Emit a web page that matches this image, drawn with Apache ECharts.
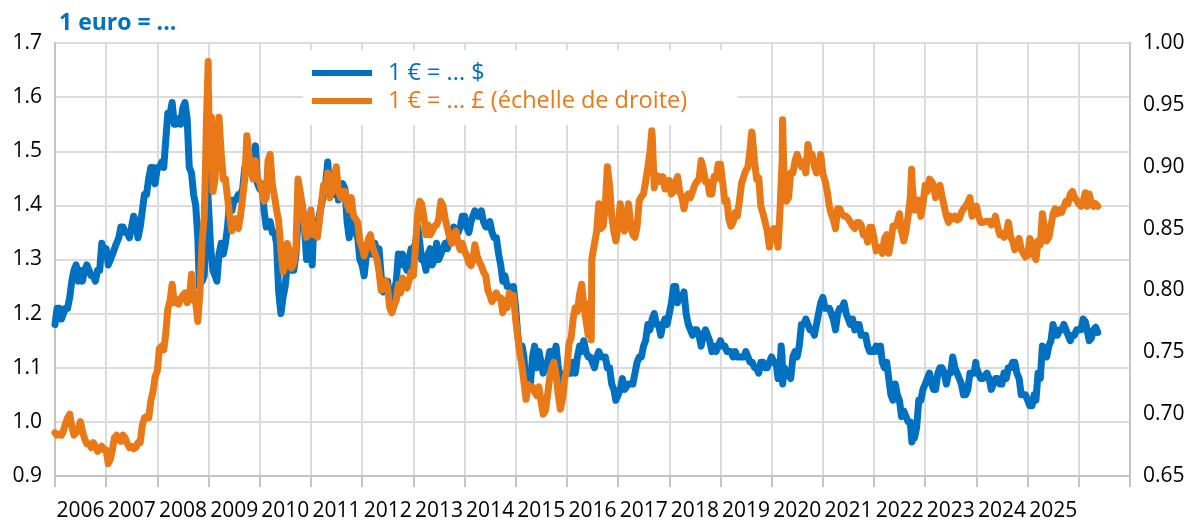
<!DOCTYPE html>
<html>
<head>
<meta charset="utf-8">
<script src="https://cdn.jsdelivr.net/npm/echarts@6/dist/echarts.min.js"></script>
<style>
  html, body { margin: 0; padding: 0; background: #fff; }
  #chart { width: 1190px; height: 522px; }
</style>
</head>
<body>
<div id="chart"></div>
<script>
// Year labels shown under the x axis (one per calendar year, centred in the year)
const yearLabels = ['2006','2007','2008','2009','2010','2011','2012','2013','2014','2015',
  '2016','2017','2018','2019','2020','2021','2022','2023','2024','2025'];

// Left axis ticks (USD per euro) and right axis ticks (GBP per euro)
const usdTicks = [0.9, 1.0, 1.1, 1.2, 1.3, 1.4, 1.5, 1.6, 1.7];
const gbpTicks = [0.65, 0.70, 0.75, 0.80, 0.85, 0.90, 0.95, 1.00];

// EUR/USD, twice a month (1st and 16th), starting January 2006
const usdValues = [
  // 2006
  1.18,1.21,1.21,1.19,1.19,1.21,1.21,1.23,1.26,1.28,1.29,1.26,1.28,1.26,1.28,1.29,1.28,1.27,1.27,1.26,1.28,1.28,1.33,1.31,
  // 2007
  1.32,1.29,1.30,1.31,1.32,1.33,1.34,1.36,1.36,1.35,1.35,1.34,1.36,1.38,1.37,1.34,1.36,1.39,1.42,1.42,1.45,1.47,1.47,1.44,
  // 2008
  1.47,1.47,1.48,1.47,1.52,1.57,1.57,1.59,1.55,1.55,1.56,1.55,1.58,1.59,1.56,1.47,1.46,1.42,1.40,1.34,1.28,1.26,1.27,1.40,
  // 2009
  1.40,1.32,1.28,1.27,1.26,1.31,1.33,1.31,1.33,1.36,1.41,1.39,1.41,1.41,1.42,1.42,1.43,1.47,1.46,1.49,1.47,1.49,1.51,1.44,
  // 2010
  1.43,1.44,1.39,1.36,1.36,1.37,1.35,1.35,1.33,1.24,1.20,1.23,1.25,1.29,1.31,1.28,1.28,1.31,1.37,1.40,1.40,1.36,1.30,1.33,
  // 2011
  1.34,1.33,1.37,1.36,1.38,1.40,1.42,1.44,1.48,1.42,1.44,1.42,1.45,1.41,1.43,1.44,1.43,1.37,1.34,1.38,1.37,1.35,1.34,1.30,
  // 2012
  1.29,1.27,1.31,1.31,1.33,1.31,1.33,1.31,1.32,1.27,1.24,1.26,1.26,1.22,1.22,1.24,1.26,1.31,1.29,1.31,1.29,1.28,1.30,1.32,
  // 2013
  1.32,1.33,1.36,1.33,1.30,1.30,1.28,1.31,1.32,1.29,1.30,1.33,1.30,1.31,1.32,1.33,1.32,1.34,1.35,1.36,1.35,1.35,1.36,1.38,
  // 2014
  1.38,1.36,1.35,1.37,1.38,1.39,1.38,1.38,1.39,1.37,1.36,1.36,1.37,1.35,1.34,1.34,1.31,1.29,1.26,1.27,1.25,1.25,1.24,1.25,
  // 2015
  1.21,1.16,1.13,1.14,1.12,1.06,1.08,1.07,1.12,1.14,1.10,1.13,1.11,1.09,1.10,1.11,1.13,1.13,1.12,1.14,1.10,1.07,1.06,1.09,
  // 2016
  1.09,1.09,1.09,1.11,1.09,1.12,1.14,1.13,1.15,1.13,1.12,1.12,1.11,1.10,1.12,1.13,1.12,1.12,1.12,1.10,1.10,1.07,1.06,1.04,
  // 2017
  1.05,1.06,1.08,1.06,1.06,1.07,1.07,1.07,1.09,1.11,1.12,1.12,1.14,1.15,1.18,1.17,1.19,1.20,1.18,1.18,1.16,1.18,1.19,1.18,
  // 2018
  1.20,1.22,1.25,1.25,1.22,1.23,1.23,1.24,1.20,1.18,1.17,1.16,1.17,1.17,1.16,1.14,1.16,1.17,1.16,1.15,1.13,1.14,1.13,1.14,
  // 2019
  1.15,1.14,1.14,1.13,1.13,1.13,1.12,1.13,1.12,1.12,1.12,1.12,1.13,1.12,1.11,1.11,1.10,1.10,1.09,1.11,1.11,1.10,1.10,1.11,
  // 2020
  1.12,1.11,1.11,1.08,1.10,1.12,1.10,1.09,1.09,1.08,1.12,1.13,1.12,1.14,1.18,1.18,1.19,1.18,1.17,1.17,1.16,1.18,1.20,1.22,
  // 2021
  1.23,1.21,1.21,1.21,1.21,1.19,1.17,1.20,1.21,1.21,1.22,1.20,1.19,1.18,1.19,1.17,1.18,1.18,1.16,1.16,1.16,1.14,1.13,1.13,
  // 2022
  1.13,1.14,1.13,1.14,1.11,1.10,1.11,1.08,1.05,1.04,1.07,1.05,1.04,1.01,1.02,1.01,1.00,1.00,0.98,0.97,0.99,1.04,1.04,1.06,
  // 2023
  1.07,1.08,1.09,1.07,1.06,1.06,1.09,1.10,1.10,1.09,1.07,1.09,1.09,1.12,1.10,1.09,1.08,1.07,1.05,1.05,1.06,1.09,1.09,1.09,
  // 2024
  1.10,1.09,1.08,1.08,1.08,1.09,1.08,1.06,1.07,1.08,1.08,1.07,1.07,1.09,1.08,1.10,1.10,1.11,1.11,1.09,1.08,1.05,1.05,1.05,
  // 2025
  1.04,1.03,1.03,1.05,1.04,1.09,1.08,1.14,1.13,1.12,1.14,1.15,1.18,1.16,1.16,1.17,1.17,1.18,1.17,1.16,1.15,1.16,1.16,1.17,
  // 2026
  1.17,1.17,1.19,1.185,1.17,1.15,1.155,1.17,1.175,1.165
];

// EUR/GBP, same dates as usdValues
const gbpValues = [
  // 2006
  0.685,0.683,0.684,0.683,0.686,0.692,0.697,0.700,0.690,0.683,0.685,0.688,0.694,0.686,0.680,0.676,0.676,0.673,0.677,0.674,0.670,0.672,0.674,0.671,
  // 2007
  0.671,0.660,0.664,0.672,0.681,0.683,0.680,0.678,0.683,0.681,0.676,0.673,0.674,0.672,0.673,0.677,0.677,0.691,0.697,0.698,0.697,0.711,0.718,0.730,
  // 2008
  0.735,0.753,0.755,0.752,0.765,0.785,0.792,0.805,0.790,0.793,0.789,0.793,0.796,0.798,0.790,0.793,0.813,0.792,0.790,0.775,0.800,0.840,0.860,0.935,
  // 2009
  0.960,0.910,0.880,0.890,0.890,0.940,0.910,0.890,0.890,0.875,0.860,0.848,0.855,0.858,0.850,0.860,0.875,0.890,0.925,0.910,0.895,0.890,0.905,0.890,
  // 2010
  0.887,0.880,0.872,0.875,0.905,0.910,0.885,0.876,0.865,0.856,0.832,0.815,0.820,0.838,0.830,0.818,0.822,0.835,0.890,0.880,0.868,0.852,0.843,0.850,
  // 2011
  0.865,0.845,0.848,0.843,0.855,0.870,0.885,0.880,0.895,0.875,0.880,0.890,0.900,0.880,0.875,0.880,0.880,0.870,0.865,0.875,0.860,0.858,0.855,0.840,
  // 2012
  0.835,0.828,0.835,0.842,0.845,0.835,0.830,0.825,0.815,0.800,0.802,0.808,0.802,0.786,0.782,0.788,0.792,0.805,0.798,0.810,0.803,0.802,0.808,0.815,
  // 2013
  0.812,0.835,0.862,0.872,0.870,0.860,0.845,0.853,0.845,0.848,0.852,0.853,0.858,0.872,0.868,0.858,0.850,0.843,0.838,0.846,0.848,0.838,0.833,0.838,
  // 2014
  0.832,0.828,0.822,0.820,0.825,0.837,0.828,0.823,0.820,0.815,0.812,0.800,0.796,0.791,0.794,0.798,0.794,0.794,0.782,0.792,0.786,0.798,0.794,0.796,
  // 2015
  0.776,0.762,0.748,0.738,0.726,0.712,0.724,0.720,0.722,0.718,0.715,0.722,0.710,0.700,0.703,0.715,0.730,0.738,0.742,0.732,0.715,0.704,0.712,0.728,
  // 2016
  0.736,0.757,0.762,0.778,0.786,0.783,0.797,0.805,0.788,0.776,0.764,0.790,0.828,0.838,0.848,0.870,0.850,0.852,0.868,0.900,0.885,0.860,0.848,0.840,
  // 2017
  0.852,0.870,0.858,0.848,0.855,0.870,0.853,0.845,0.843,0.852,0.873,0.876,0.878,0.888,0.900,0.912,0.925,0.883,0.893,0.892,0.888,0.892,0.882,0.882,
  // 2018
  0.889,0.878,0.880,0.888,0.892,0.880,0.875,0.866,0.875,0.878,0.875,0.880,0.885,0.888,0.890,0.905,0.898,0.888,0.888,0.878,0.878,0.892,0.890,0.902,
  // 2019
  0.902,0.888,0.872,0.873,0.858,0.852,0.855,0.863,0.860,0.872,0.887,0.892,0.897,0.900,0.915,0.925,0.905,0.890,0.891,0.868,0.862,0.855,0.848,0.835,
  // 2020
  0.846,0.850,0.845,0.835,0.865,0.905,0.880,0.872,0.875,0.895,0.895,0.905,0.910,0.905,0.900,0.904,0.895,0.918,0.908,0.910,0.900,0.895,0.898,0.910,
  // 2021
  0.894,0.889,0.880,0.868,0.862,0.857,0.850,0.866,0.866,0.862,0.860,0.860,0.858,0.855,0.852,0.850,0.855,0.855,0.853,0.845,0.846,0.839,0.851,0.851,
  // 2022
  0.842,0.832,0.835,0.835,0.830,0.842,0.845,0.830,0.840,0.852,0.852,0.855,0.862,0.848,0.840,0.848,0.860,0.875,0.885,0.865,0.865,0.873,0.860,0.870,
  // 2023
  0.885,0.880,0.890,0.888,0.885,0.875,0.880,0.885,0.876,0.868,0.860,0.855,0.860,0.858,0.860,0.857,0.858,0.863,0.866,0.868,0.871,0.875,0.860,0.866,
  // 2024
  0.868,0.860,0.855,0.855,0.856,0.856,0.856,0.853,0.855,0.860,0.851,0.845,0.846,0.843,0.846,0.855,0.843,0.840,0.833,0.838,0.842,0.833,0.830,0.827,
  // 2025
  0.828,0.842,0.838,0.828,0.825,0.840,0.837,0.862,0.850,0.840,0.843,0.852,0.862,0.866,0.862,0.865,0.863,0.868,0.872,0.870,0.878,0.880,0.875,0.873,
  // 2026
  0.870,0.868,0.872,0.879,0.868,0.878,0.870,0.868,0.870,0.868
];

// Extra dated points for short-lived peaks and troughs between the regular dates
const usdExtra = [
  ['2008-10-27', 1.25], ['2008-12-18', 1.47], ['2008-12-31', 1.40],
  ['2011-01-10', 1.29], ['2020-03-09', 1.14], ['2020-03-20', 1.07],
  ['2022-09-28', 0.963], ['2023-12-28', 1.11]
];
const gbpExtra = [
  ['2008-12-10', 0.900], ['2008-12-29', 0.985], ['2008-12-31', 0.953],
  ['2009-01-08', 0.900], ['2009-01-22', 0.940],
  ['2016-06-23', 0.760], ['2016-06-27', 0.825],
  ['2017-08-29', 0.929], ['2019-08-12', 0.928], ['2020-03-19', 0.938],
  ['2022-09-26', 0.898]
];

const BLUE = '#0070C0';
const ORANGE = '#E97817';
const FONT = '"Open Sans", "DejaVu Sans", sans-serif';

// The regular series runs on the 1st and 16th of each month from January 2006
function regularDate(i) {
  const year = 2006 + Math.floor(i / 24);
  const month = Math.floor((i % 24) / 2);
  const day = (i % 2) ? 16 : 1;
  return Date.UTC(year, month, day);
}
function buildSeries(values, extra) {
  const pts = values.map((v, i) => [regularDate(i), v]);
  extra.forEach(([d, v]) => pts.push([Date.parse(d + 'T00:00:00Z'), v]));
  pts.sort((a, b) => a[0] - b[0]);
  return pts;
}

const chart = echarts.init(document.getElementById('chart'), null, { renderer: 'canvas' });

chart.setOption({
  animation: false,
  backgroundColor: '#fff',
  textStyle: { fontFamily: FONT },
  title: {
    text: '1 euro = ...',
    left: 59, top: 12, padding: 0,
    textStyle: { color: BLUE, fontSize: 23, fontWeight: 'bold', fontFamily: FONT }
  },
  legend: {
    orient: 'vertical',
    left: 303, top: 50,
    padding: [11, 50, 12, 9],
    backgroundColor: '#fff',
    itemWidth: 60, itemHeight: 6, itemGap: 4,
    icon: 'rect',
    textStyle: { fontSize: 23.5, fontFamily: FONT, lineHeight: 23, padding: [0, 0, 0, 11] },
    data: [
      { name: '1 € = ... $', textStyle: { color: BLUE } },
      { name: '1 € = ... £ (échelle de droite)', textStyle: { color: ORANGE } }
    ]
  },
  grid: {
    left: 55, right: 60, top: 43, bottom: 42,
    show: true, borderColor: '#c4c4c4', borderWidth: 2
  },
  xAxis: [
    {
      type: 'category',
      data: yearLabels.concat(['']),
      boundaryGap: true,
      position: 'bottom',
      axisLine: { show: true, lineStyle: { color: '#c4c4c4', width: 2 } },
      axisTick: { show: true, length: 11, interval: 0, lineStyle: { color: '#c4c4c4', width: 2 } },
      axisLabel: { interval: 0, margin: 25, color: '#000', fontSize: 21, fontFamily: FONT },
      splitLine: { show: true, interval: 0, lineStyle: { color: '#dcdcdc', width: 2 } }
    },
    {
      type: 'time',
      show: false,
      min: Date.UTC(2006, 0, 1),
      max: Date.UTC(2027, 0, 1)
    }
  ],
  yAxis: [
    {
      type: 'value',
      min: usdTicks[0], max: usdTicks[usdTicks.length - 1], interval: 0.1,
      axisLine: { show: true, lineStyle: { color: '#c4c4c4', width: 2 } },
      axisTick: { show: false },
      axisLabel: { margin: 13, color: '#000', fontSize: 21, fontFamily: FONT,
        formatter: v => v.toFixed(1) },
      splitLine: { show: true, lineStyle: { color: '#dcdcdc', width: 2 } }
    },
    {
      type: 'value',
      position: 'right',
      min: gbpTicks[0], max: gbpTicks[gbpTicks.length - 1], interval: 0.05,
      axisLine: { show: true, lineStyle: { color: '#c4c4c4', width: 2 } },
      axisTick: { show: false },
      axisLabel: { margin: 13, color: '#000', fontSize: 21, fontFamily: FONT,
        formatter: v => v.toFixed(2) },
      splitLine: { show: false }
    }
  ],
  series: [
    {
      name: '1 € = ... $',
      type: 'line',
      xAxisIndex: 1, yAxisIndex: 0,
      data: buildSeries(usdValues, usdExtra),
      showSymbol: false,
      color: BLUE,
      lineStyle: { width: 7, color: BLUE, cap: 'round', join: 'round' }
    },
    {
      name: '1 € = ... £ (échelle de droite)',
      type: 'line',
      xAxisIndex: 1, yAxisIndex: 1,
      data: buildSeries(gbpValues, gbpExtra),
      showSymbol: false,
      color: ORANGE,
      lineStyle: { width: 7, color: ORANGE, cap: 'round', join: 'round' }
    }
  ]
});
</script>
</body>
</html>
